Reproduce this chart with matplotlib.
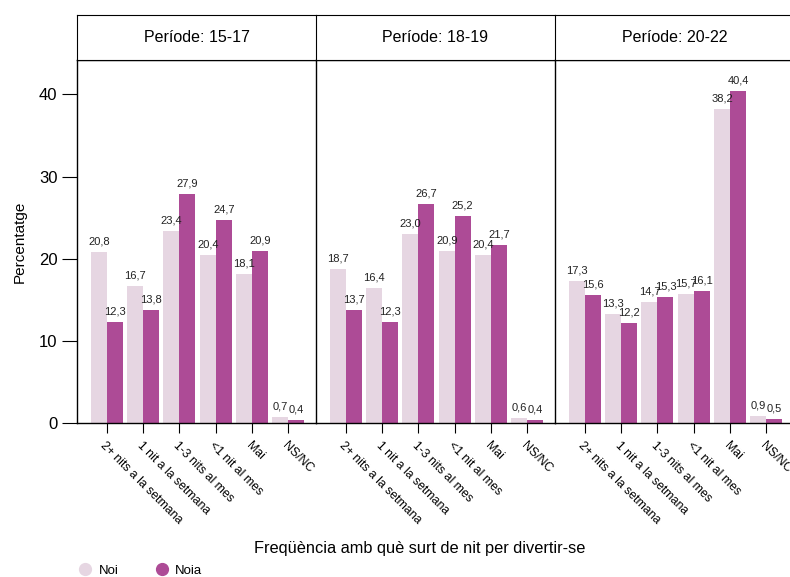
import numpy as np
import matplotlib
matplotlib.use("Agg")
import matplotlib.pyplot as plt
from matplotlib.lines import Line2D

plt.rcParams["font.family"] = ["Liberation Sans", "DejaVu Sans"]

periods = ["Període: 15-17", "Període: 18-19", "Període: 20-22"]
categories = ["2+ nits a la setmana", "1 nit a la setmana", "1-3 nits al mes",
              "<1 nit al mes", "Mai", "NS/NC"]
noi = [
    [20.8, 16.7, 23.4, 20.4, 18.1, 0.7],
    [18.7, 16.4, 23.0, 20.9, 20.4, 0.6],
    [17.3, 13.3, 14.7, 15.7, 38.2, 0.9],
]
noia = [
    [12.3, 13.8, 27.9, 24.7, 20.9, 0.4],
    [13.7, 12.3, 26.7, 25.2, 21.7, 0.4],
    [15.6, 12.2, 15.3, 16.1, 40.4, 0.5],
]
yticks = [0, 10, 20, 30, 40]

c_noi = "#e6d6e2"
c_noia = "#ad4b96"

W, H = 790, 577
fig = plt.figure(figsize=(W / 100, H / 100), dpi=100)

panel_w = 239
x0 = 77
ax_top, ax_bot = 60, 423
strip_top = 15

x = np.arange(len(categories))
bw = 0.44

for i, period in enumerate(periods):
    left = (x0 + i * panel_w) / W
    ax = fig.add_axes([left, (H - ax_bot) / H, panel_w / W, (ax_bot - ax_top) / H])
    ax.bar(x - bw / 2, noi[i], width=bw, color=c_noi)
    ax.bar(x + bw / 2, noia[i], width=bw, color=c_noia)
    for xi, v in zip(x, noi[i]):
        ax.annotate(f"{v:.1f}".replace(".", ","), (xi - bw / 2, v), xytext=(0, 4),
                    textcoords="offset points", ha="center", va="bottom",
                    fontsize=8, color="#222222")
    for xi, v in zip(x, noia[i]):
        ax.annotate(f"{v:.1f}".replace(".", ","), (xi + bw / 2, v), xytext=(0, 4),
                    textcoords="offset points", ha="center", va="bottom",
                    fontsize=8, color="#222222")
    ax.set_xlim(-0.82, 5.76)
    ax.set_ylim(0, 44.2)
    for s in ax.spines.values():
        s.set_linewidth(1.0)
    ax.spines["right"].set_visible(i == 2)
    ax.set_xticks(x)
    ax.set_xticklabels(categories, rotation=-45, ha="left", va="top",
                       rotation_mode="anchor", fontsize=8.8)
    ax.tick_params(axis="x", length=7, width=0.8, pad=5)
    if i == 0:
        ax.set_yticks(yticks)
        ax.tick_params(axis="y", length=11, width=0.8, labelsize=12, pad=3)
        ax.set_ylabel("Percentatge", fontsize=11, labelpad=9)
    else:
        ax.set_yticks([])
    # strip header
    sax = fig.add_axes([left, (H - ax_top) / H, panel_w / W, (ax_top - strip_top) / H])
    sax.set_xticks([])
    sax.set_yticks([])
    sax.spines["right"].set_visible(i == 2)
    sax.text(0.5, 0.5, period, ha="center", va="center", fontsize=11.5,
             transform=sax.transAxes)

fig.text(420 / W, 1 - 548 / H, "Freqüència amb què surt de nit per divertir-se",
         ha="center", va="center", fontsize=11.8)

handles = [
    Line2D([], [], marker="o", linestyle="none", markersize=8.5, color=c_noi, label="Noi"),
    Line2D([], [], marker="o", linestyle="none", markersize=8.5, color=c_noia, label="Noia"),
]
fig.legend(handles=handles, loc="center left", bbox_to_anchor=(72 / W, 1 - 570.5 / H),
           ncol=2, frameon=False, fontsize=9.5, handletextpad=0.5, columnspacing=2.8,
           borderpad=0, handlelength=1.0)

fig.savefig("out.png", dpi=100)
